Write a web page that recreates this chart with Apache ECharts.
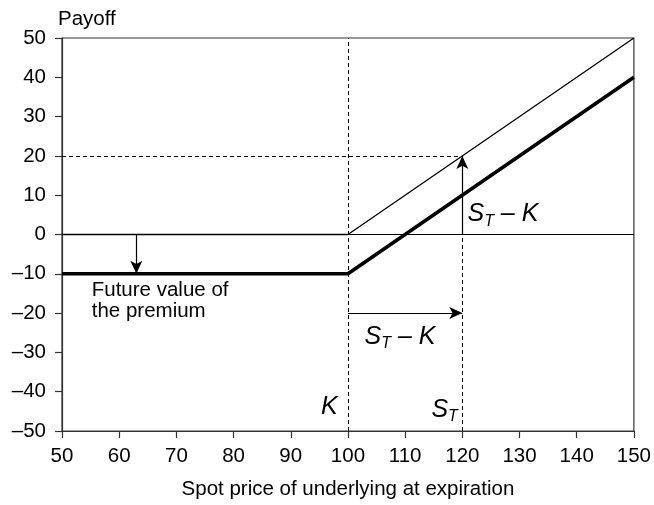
<!DOCTYPE html>
<html><head><meta charset="utf-8">
<script src="https://cdn.jsdelivr.net/npm/echarts@6/dist/echarts.min.js"></script>
<style>html,body{margin:0;padding:0;background:#fff}#c{width:654px;height:505px}</style>
</head><body><div id="c"></div>
<script>
// Data
const spotPrices = [50, 100, 150];
const payoffNoPremium = [0, 0, 50];      // thin line
const payoffWithPremium = [-10, -10, 40]; // thick line
const strike = 100;
const spotAtExp = 120;
const premium = -10;
const payoffAtST = 20;
const premiumArrowX = 63;
const horizArrowY = -20;
const xTicks = { min: 50, max: 150, step: 10 };
const yTicks = { min: -50, max: 50, step: 10 };

const FONT = '"Liberation Sans", Arial, Helvetica, sans-serif';
const thinData = spotPrices.map((x, i) => [x, payoffNoPremium[i]]);
const thickData = spotPrices.map((x, i) => [x, payoffWithPremium[i]]);

const dashStyle = { color: '#000', width: 1, type: [4, 3] };
const arrowLine = { color: '#000', width: 1.2, type: 'solid' };

function textMark(coord, rich, formatter, align, vAlign) {
  return {
    coord: coord, symbol: 'circle', symbolSize: 0,
    label: { show: true, position: [0, 0], align: align, verticalAlign: vAlign,
      formatter: formatter, rich: rich, fontFamily: FONT, color: '#000' }
  };
}
const italRich = {
  s: { fontSize: 25, fontStyle: 'italic', fontFamily: FONT, color: '#000', lineHeight: 30 },
  sub: { fontSize: 16, fontStyle: 'italic', fontFamily: FONT, color: '#000', verticalAlign: 'bottom', lineHeight: 30, padding: [10, 0, 0, 0] }
};

const chart = echarts.init(document.getElementById('c'), null, { renderer: 'canvas' });
chart.setOption({
  animation: false,
  backgroundColor: '#fff',
  title: { text: 'Payoff', left: 53, top: 4, textStyle: { fontFamily: FONT, fontSize: 20.5, fontWeight: 'normal', color: '#000' } },
  grid: { left: 62, right: 19, top: 38, bottom: 73, show: true, borderColor: '#333', borderWidth: 1.2, backgroundColor: 'transparent' },
  xAxis: {
    type: 'value', min: xTicks.min, max: xTicks.max, interval: xTicks.step,
    name: 'Spot price of underlying at expiration', nameLocation: 'middle', nameGap: 48,
    nameTextStyle: { fontFamily: FONT, fontSize: 20.5, color: '#000' },
    axisLine: { show: true, onZero: false, lineStyle: { color: '#333', width: 1.2 } },
    axisTick: { show: true, length: 7, lineStyle: { color: '#333', width: 1.2 } },
    axisLabel: { fontFamily: FONT, fontSize: 20.5, color: '#000', margin: 15 },
    splitLine: { show: false }
  },
  yAxis: {
    type: 'value', min: yTicks.min, max: yTicks.max, interval: yTicks.step,
    axisLine: { show: true, onZero: false, lineStyle: { color: '#333', width: 1.2 } },
    axisTick: { show: true, length: 7, lineStyle: { color: '#333', width: 1.2 } },
    axisLabel: { fontFamily: FONT, fontSize: 20.5, color: '#000', margin: 16,
      formatter: v => (v < 0 ? '\u2013' + Math.abs(v) : String(v)) },
    splitLine: { show: false }
  },
  series: [
    {
      type: 'line', data: thinData, symbol: 'none', z: 3,
      lineStyle: { color: '#000', width: 1.3 },
      markLine: {
        silent: true, animation: false, symbol: ['none', 'none'], label: { show: false },
        data: [
          [{ coord: [xTicks.min, 0], lineStyle: { color: '#000', width: 1.2, type: 'solid' } }, { coord: [xTicks.max, 0] }],
          [{ coord: [strike, yTicks.min], lineStyle: dashStyle }, { coord: [strike, yTicks.max] }],
          [{ coord: [spotAtExp, yTicks.min], lineStyle: dashStyle }, { coord: [spotAtExp, payoffAtST] }],
          [{ coord: [xTicks.min, payoffAtST], lineStyle: dashStyle }, { coord: [spotAtExp, payoffAtST] }]
        ]
      }
    },
    {
      type: 'line', data: thickData, symbol: 'none', z: 4,
      lineStyle: { color: '#000', width: 3.6 },
      markLine: {
        silent: true, animation: false, symbol: ['none', 'arrow'], symbolSize: [9, 13], label: { show: false },
        lineStyle: arrowLine,
        data: [
          [{ coord: [spotAtExp, 0] }, { coord: [spotAtExp, payoffAtST] }],
          [{ coord: [premiumArrowX, 0] }, { coord: [premiumArrowX, premium] }],
          [{ coord: [strike, horizArrowY] }, { coord: [spotAtExp, horizArrowY] }]
        ],
        itemStyle: { color: '#000' }
      },
      markPoint: {
        silent: true, animation: false,
        data: [
          {
            coord: [55.2, -16.8], symbol: 'circle', symbolSize: 0,
            label: { show: true, position: [0, 0], align: 'left', verticalAlign: 'middle',
              formatter: 'Future value of\nthe premium', fontFamily: FONT, fontSize: 20.5, lineHeight: 21, color: '#000' }
          },
          textMark([120.9, 5.1], italRich, '{s|S}{sub|T}{s| \u2013 K}', 'left', 'middle'),
          textMark([102.9, -26], italRich, '{s|S}{sub|T}{s| \u2013 K}', 'left', 'middle'),
          textMark([98.2, -43.8], italRich, '{s|K}', 'right', 'middle'),
          textMark([114.6, -44.6], italRich, '{s|S}{sub|T}', 'left', 'middle')
        ]
      }
    }
  ]
});
</script></body></html>
